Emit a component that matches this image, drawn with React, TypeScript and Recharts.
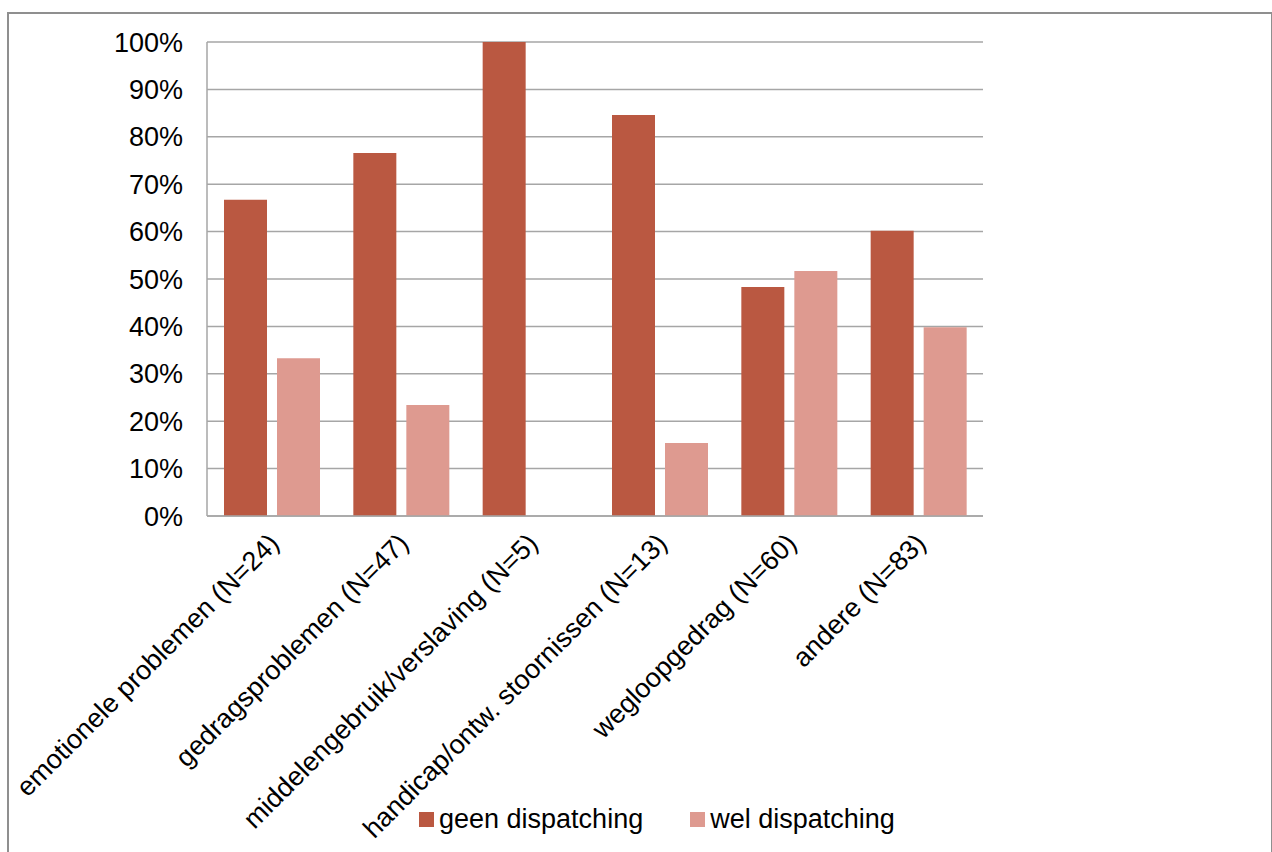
import React from "react";
import { BarChart, Bar, XAxis, YAxis, CartesianGrid } from "recharts";

// Aandeel jongeren per probleemgebied, met en zonder dispatching
const categories = [
  "emotionele problemen (N=24)",
  "gedragsproblemen (N=47)",
  "middelengebruik/verslaving (N=5)",
  "handicap/ontw. stoornissen (N=13)",
  "wegloopgedrag (N=60)",
  "andere (N=83)",
];
const geenDispatching = [0.667, 0.766, 1.0, 0.846, 0.483, 0.602];
const welDispatching = [0.333, 0.234, 0.0, 0.154, 0.517, 0.398];
const yTicks = [0, 0.1, 0.2, 0.3, 0.4, 0.5, 0.6, 0.7, 0.8, 0.9, 1.0];

const SERIES = [
  { key: "geen", name: "geen dispatching", color: "#BA5841" },
  { key: "wel", name: "wel dispatching", color: "#DE9A90" },
];

const FONT = "'Liberation Sans', Arial, sans-serif";
const FONT_SIZE = 27;
const GRID = "#A6A6A6";

const data = categories.map((name, i) => ({
  name,
  geen: geenDispatching[i],
  wel: welDispatching[i],
}));

function CategoryTick(props: any) {
  const { x, payload } = props;
  const ax = x + 9;
  const ay = 545;
  return (
    <text
      x={ax}
      y={ay}
      transform={`rotate(-45, ${ax}, ${ay})`}
      textAnchor="end"
      fontSize={FONT_SIZE}
      fontFamily={FONT}
      fill="#000"
    >
      {payload.value}
    </text>
  );
}

function LegendBox() {
  return (
    <div
      style={{
        position: "absolute",
        left: 419,
        top: 804,
        display: "flex",
        alignItems: "center",
        fontFamily: FONT,
        fontSize: FONT_SIZE,
        lineHeight: "30px",
        color: "#000",
      }}
    >
      {SERIES.map((s, i) => (
        <div key={s.key} style={{ display: "flex", alignItems: "center", marginRight: i === 0 ? 47 : 0 }}>
          <span style={{ width: 15, height: 15, background: s.color, marginRight: 5, display: "inline-block" }} />
          <span>{s.name}</span>
        </div>
      ))}
    </div>
  );
}

export default function App() {
  return (
    <div style={{ position: "absolute", left: 0, top: 0, width: 1272, height: 852, overflow: "hidden", background: "#fff" }}>
      <div
        style={{
          position: "absolute",
          left: 7,
          top: 12,
          width: 1262,
          height: 900,
          border: "2px solid #8F8F8F",
        }}
      />
      <div style={{ position: "absolute", left: 0, top: 0 }}>
        <BarChart
          width={1272}
          height={852}
          data={data}
          margin={{ top: 42, right: 289, bottom: 0, left: 127 }}
          barSize={43}
          barGap={10}
        >
          <CartesianGrid vertical={false} stroke={GRID} strokeWidth={1.5} />
          <XAxis
            dataKey="name"
            height={336}
            axisLine={{ stroke: GRID, strokeWidth: 1.5 }}
            tickLine={false}
            interval={0}
            tick={<CategoryTick />}
          />
          <YAxis
            width={80}
            domain={[0, 1]}
            ticks={yTicks}
            tickFormatter={(v: number) => `${Math.round(v * 100)}%`}
            axisLine={{ stroke: GRID, strokeWidth: 1.5 }}
            tickLine={false}
            tickMargin={18}
            tick={{ fontSize: FONT_SIZE, fontFamily: FONT, fill: "#000" }}
          />
          {SERIES.map((s) => (
            <Bar key={s.key} dataKey={s.key} name={s.name} fill={s.color} isAnimationActive={false} />
          ))}
        </BarChart>
      </div>
      <LegendBox />
    </div>
  );
}
